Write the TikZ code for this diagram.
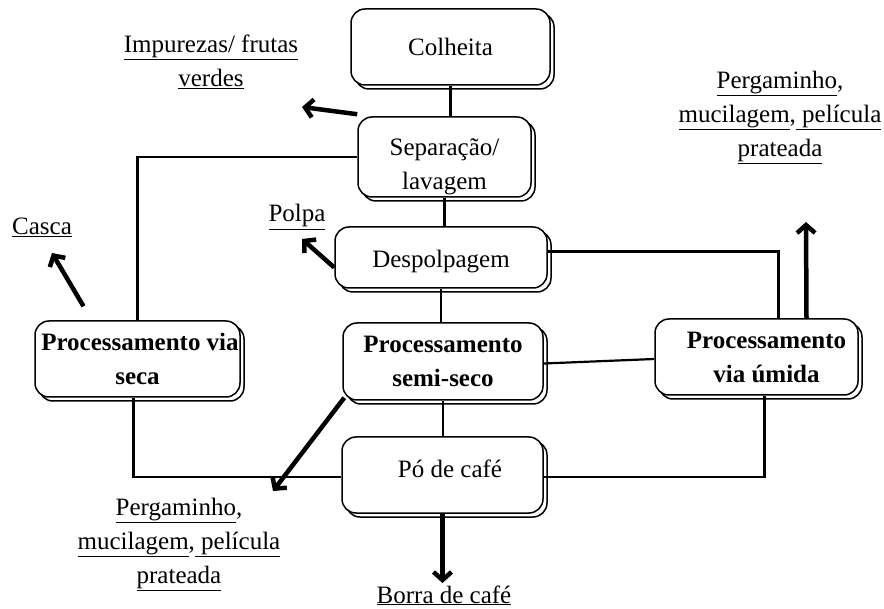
\documentclass[tikz,border=0pt]{standalone}
\usepackage{fontspec}
\setmainfont{Liberation Serif}
\usetikzlibrary{arrows.meta,shadows}

\tikzset{
  box/.style={draw, rounded corners=14pt, fill=white, line width=1.5pt,
    inner sep=0pt, align=center,
    general shadow={shadow xshift=4pt, shadow yshift=-4pt, draw=black,
      fill=white, line width=1.5pt}},
  stage/.style={box, font=\fontsize{25}{34}\selectfont\bfseries},
  outlabel/.style={inner sep=0pt, align=center},
  link/.style={line width=2.2pt},
  outarrow/.style={line width=4.5pt, -{Straight Barb[length=8pt,width=18pt]}}
}

\begin{document}
\begin{tikzpicture}[x=1pt, y=-1pt, font=\fontsize{25}{34}\selectfont]
\useasboundingbox (0,0) rectangle (884,609);

% ===== central column =====
\node[box, minimum width=199pt, minimum height=76pt] (colheita) at (450.5,47) {Colheita};
\node[box, minimum width=173pt, minimum height=80pt] (separacao) at (444.5,157)
  {\rule{0pt}{37pt}Separação/\\lavagem};
\node[box, minimum width=212pt, minimum height=61pt, text height=21pt, text depth=0pt]
  (despolpa) at (441,257.5) {Despolpagem};
\node[stage, minimum width=200pt, minimum height=77pt] (semiseco) at (443,361.5)
  {Processamento\\semi-seco};
\node[box, minimum width=201pt, minimum height=76pt, text depth=13pt] (po) at (442.5,475)
  {\hspace*{15pt}Pó de café};

% ===== side processes =====
\node[stage, minimum width=205pt, minimum height=76pt] (viaseca) at (137.5,359)
  {\hspace*{5pt}Processamento via\\seca};
\node[stage, minimum width=203pt, minimum height=76pt] (viaumida) at (756.5,357)
  {\hspace*{20pt}Processamento\\\hspace*{20pt}via úmida};

% ===== by-products =====
\node[outlabel, anchor=north] (impurezas) at (211,35)
  {\underline{Impurezas/ frutas}\\\underline{verdes}};
\node[outlabel, anchor=base] (casca) at (42,235) {\underline{Casca}};
\node[outlabel, anchor=base] (polpa) at (297,222) {\underline{Polpa}};
\node[outlabel, anchor=north] (pergumida) at (780,71)
  {\underline{Pergaminho},\\\underline{mucilagem},\underline{ película}\\\underline{prateada}};
\node[outlabel, anchor=north] (pergsemi) at (179,498)
  {\underline{Pergaminho},\\\underline{mucilagem},\underline{ película}\\\underline{prateada}};
\node[outlabel, anchor=base] (borra) at (444,603) {\underline{Borra de café}};

% arrow tips next to the labels
\coordinate (impTip) at (302,107);
\coordinate (polpaTip) at (302,239);
\coordinate (cascaTip) at (52,253);
\coordinate (pergumidaTip) at (806,222);
\coordinate (pergsemiTip) at (273,491);
\coordinate (borraTip) at (442.5,583);

% ===== flow lines =====
\draw[link] (colheita.south) -- (colheita.south |- separacao.north);
\draw[link] (separacao.south) -- (separacao.south |- despolpa.north);
\draw[link] (despolpa.south) -- (despolpa.south |- semiseco.north);
\draw[link] (semiseco.south) -- (semiseco.south |- po.north);
\draw[link] (separacao.west) -| (viaseca.north);
\draw[link] ([xshift=-4pt]viaseca.south) |- ([yshift=-2pt]po.west);
\draw[link] ([yshift=-2pt]po.east) -| ([xshift=8pt]viaumida.south);
\draw[link] ([yshift=6pt]despolpa.east) -| ([xshift=22pt]viaumida.north);
\draw[link] ([yshift=-2pt]semiseco.east) -- ([yshift=-2pt]viaumida.west);

% ===== outputs =====
\draw[outarrow] ([shift={(0pt,2pt)}]separacao.north west) -- (impTip);
\draw[outarrow] ([yshift=-10pt]despolpa.west) -- (polpaTip);
\draw[outarrow] ([shift={(-54pt,14pt)}]viaseca.north) -- (cascaTip);
\draw[outarrow] ([xshift=50pt]viaumida.north) -- (pergumidaTip);
\draw[outarrow] ([shift={(2pt,3pt)}]semiseco.south west) -- (pergsemiTip);
\draw[outarrow] (po.south) -- (borraTip);
\end{tikzpicture}
\end{document}
